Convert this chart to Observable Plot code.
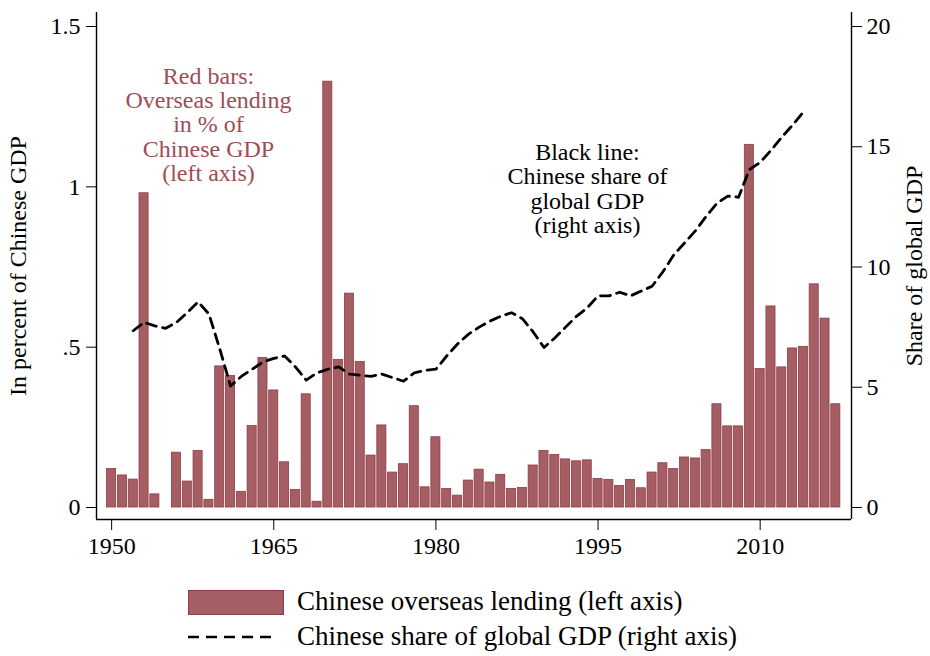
<!DOCTYPE html>
<html><head><meta charset="utf-8">
<script src="https://cdn.jsdelivr.net/npm/d3@7"></script>
<script src="https://cdn.jsdelivr.net/npm/@observablehq/plot@0.6"></script>
<style>
body{margin:0;background:#fff;font-family:"Liberation Serif","Times New Roman",serif;}
#wrap{position:relative;width:930px;height:656px;overflow:hidden;}
#chart{position:absolute;left:0;top:0;}
.lg{position:absolute;font-size:27px;color:#000;line-height:1;white-space:nowrap;}
.sw{position:absolute;left:188px;top:590px;width:94px;height:23px;background:#a55e63;border:1px solid #8f3b45;}
</style></head><body>
<div id="wrap"><div id="chart"></div>
<div class="sw"></div>
<div class="lg" style="left:297px;top:588px;">Chinese overseas lending (left axis)</div>
<svg style="position:absolute;left:0;top:625px" width="300" height="25"><line x1="188" x2="275" y1="12" y2="12" stroke="#000" stroke-width="2.6" stroke-dasharray="11,7"/></svg>
<div class="lg" style="left:297px;top:623px;">Chinese share of global GDP (right axis)</div>
</div>
<script>
// Bars: Chinese overseas lending, % of Chinese GDP (left axis)
const lendYears = [1950,1951,1952,1953,1954,1956,1957,1958,1959,1960,1961,1962,1963,1964,1965,1966,1967,1968,1969,1970,1971,1972,1973,1974,1975,1976,1977,1978,1979,1980,1981,1982,1983,1984,1985,1986,1987,1988,1989,1990,1991,1992,1993,1994,1995,1996,1997,1998,1999,2000,2001,2002,2003,2004,2005,2006,2007,2008,2009,2010,2011,2012,2013,2014,2015,2016,2017];
const lending = [0.12,0.10,0.087,0.98,0.041,0.171,0.081,0.176,0.024,0.44,0.41,0.049,0.254,0.466,0.365,0.141,0.055,0.353,0.018,1.328,0.46,0.667,0.454,0.162,0.256,0.109,0.135,0.316,0.063,0.219,0.058,0.037,0.084,0.118,0.078,0.102,0.058,0.061,0.131,0.176,0.164,0.15,0.144,0.147,0.089,0.086,0.067,0.086,0.06,0.109,0.138,0.12,0.156,0.153,0.179,0.322,0.253,0.253,1.131,0.432,0.627,0.437,0.496,0.501,0.696,0.589,0.322];

// Line: Chinese share of global GDP, % (right axis)
const gdpYears = [1952,1953,1954,1955,1956,1957,1958,1959,1960,1961,1962,1963,1964,1965,1966,1967,1968,1969,1970,1971,1972,1973,1974,1975,1976,1977,1978,1979,1980,1981,1982,1983,1984,1985,1986,1987,1988,1989,1990,1991,1992,1993,1994,1995,1996,1997,1998,1999,2000,2001,2002,2003,2004,2005,2006,2007,2008,2009,2010,2011,2012,2013,2014];
const gdpShare = [7.35,7.7,7.55,7.45,7.7,8.1,8.55,8.05,6.6,5.05,5.45,5.75,6.05,6.2,6.3,5.85,5.3,5.6,5.75,5.85,5.55,5.5,5.45,5.55,5.4,5.25,5.6,5.7,5.75,6.3,6.8,7.2,7.5,7.75,7.95,8.1,7.85,7.3,6.65,7.05,7.5,7.95,8.3,8.8,8.8,8.95,8.8,9.0,9.2,9.8,10.5,11.0,11.5,12.1,12.65,12.95,12.9,14.05,14.35,14.85,15.4,15.9,16.45];

const xTicks = [1950,1965,1980,1995,2010];
const leftTicks = [0,0.5,1,1.5];
const leftTickLabels = ["0",".5","1","1.5"];
const rightTicks = [0,5,10,15,20];

const redNote = "Red bars:\nOverseas lending\nin % of\nChinese GDP\n(left axis)";
const blackNote = "Black line:\nChinese share of\nglobal GDP\n(right axis)";
const redNotePos = {x: 1958.96, y: 1.194};
const blackNotePos = {x: 1994.02, y: 0.995};

const ratio = 20 / 1.5; // right axis units per left axis unit
const bars = lendYears.map((y, i) => ({year: y, value: lending[i]}));
const line = gdpYears.map((y, i) => ({year: y, share: gdpShare[i]}));

const xDomain = [1948.6, 2018.45];
const yDomain = [-0.0374, 1.5437];
const W = 930, H = 575, mT = 12, mB = H - 519, mL = 96, mR = 930 - 851;
const barRed = "#a55e63", textRed = "#9e4d55";

const chart = Plot.plot({
  width: W, height: H,
  marginTop: mT, marginBottom: mB, marginLeft: mL, marginRight: mR,
  style: {fontFamily: '"Liberation Serif","Times New Roman",serif', fontSize: "22px", background: "#fff", color: "#000"},
  x: {domain: xDomain},
  y: {domain: yDomain},
  marks: [
    Plot.rectY(bars, {x1: d => d.year - 0.42, x2: d => d.year + 0.42, y1: 0, y2: "value", fill: barRed, stroke: "#8f3b45", strokeWidth: 0.8}),
    Plot.line(line, {x: "year", y: d => d.share / ratio, stroke: "#000", strokeWidth: 2.8, strokeDasharray: "10,6.5"}),
    Plot.ruleX(xDomain, {stroke: "#000", strokeWidth: 1.4}),
    Plot.ruleY([yDomain[0]], {stroke: "#000", strokeWidth: 1.4}),
    Plot.axisX({ticks: xTicks, tickFormat: d => String(d), tickSize: 11, tickPadding: 6, label: null, fontSize: 24}),
    Plot.axisY({anchor: "left", ticks: leftTicks, tickFormat: (d) => leftTickLabels[leftTicks.indexOf(d)], tickSize: 10, tickPadding: 6, label: null, fontSize: 24}),
    Plot.axisY({anchor: "right", ticks: rightTicks.map(v => v / ratio), tickFormat: d => String(Math.round(d * ratio)), tickSize: 10, tickPadding: 5, label: null, fontSize: 24}),
    Plot.text(["In percent of Chinese GDP"], {frameAnchor: "left", rotate: -90, dx: -78, textAnchor: "middle", fontSize: 24}),
    Plot.text(["Share of global GDP"], {frameAnchor: "right", rotate: -90, dx: 63, textAnchor: "middle", fontSize: 24}),
    Plot.text([redNote], {x: redNotePos.x, y: redNotePos.y, fill: textRed, fontSize: 24, lineHeight: 1.02, textAnchor: "middle"}),
    Plot.text([blackNote], {x: blackNotePos.x, y: blackNotePos.y, fill: "#000", fontSize: 24, lineHeight: 1.02, textAnchor: "middle"})
  ]
});
document.getElementById("chart").appendChild(chart);
</script>
</body></html>
